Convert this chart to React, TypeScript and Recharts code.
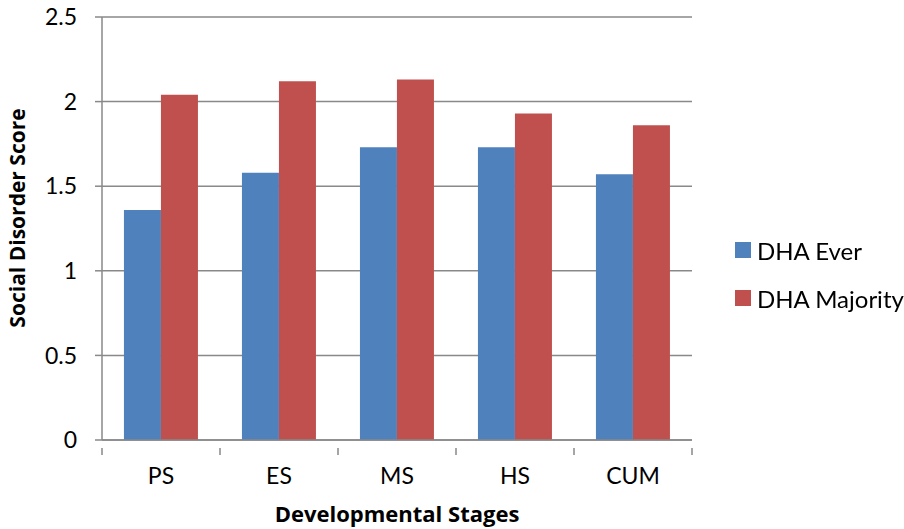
import React from 'react';
import { BarChart, Bar, XAxis, YAxis, CartesianGrid, Legend, Label } from 'recharts';

const stages = ['PS', 'ES', 'MS', 'HS', 'CUM'];
const dhaEver = [1.36, 1.58, 1.73, 1.73, 1.57];
const dhaMajority = [2.04, 2.12, 2.13, 1.93, 1.86];
const yTicks = [0, 0.5, 1, 1.5, 2, 2.5];

const seriesInfo = [
  { key: 'ever', name: 'DHA Ever', color: '#4F81BD' },
  { key: 'majority', name: 'DHA Majority', color: '#C0504D' },
];

const data = stages.map((stage, i) => ({
  stage,
  ever: dhaEver[i],
  majority: dhaMajority[i],
}));

const WIDTH = 904;
const HEIGHT = 529;
const PLOT_LEFT = 102;
const PLOT_RIGHT = 692;
const AXIS_COLOR = '#898989';
const FONT = 'Lato, "Open Sans", sans-serif';
const TITLE_FONT = '"Open Sans", Lato, sans-serif';

const halfBand = (PLOT_RIGHT - PLOT_LEFT) / stages.length / 2;

// Category label centred in its band, with tick marks on the band edges
const StageTick = (props: any) => {
  const { x, y, payload, index } = props;
  const isLast = index === stages.length - 1;
  return (
    <g>
      <line x1={x - halfBand} x2={x - halfBand} y1={y} y2={y + 7} stroke={AXIS_COLOR} strokeWidth={1.5} />
      {isLast && (
        <line x1={x + halfBand} x2={x + halfBand} y1={y} y2={y + 7} stroke={AXIS_COLOR} strokeWidth={1.5} />
      )}
      <text x={x} y={y + 36} textAnchor="middle" fontSize={23} fill="#000" fontFamily={FONT}>
        {payload.value}
      </text>
    </g>
  );
};

const LegendBox = () => (
  <div style={{ fontFamily: FONT, fontSize: 24, color: '#000' }}>
    {seriesInfo.map((s) => (
      <div key={s.key} style={{ display: 'flex', alignItems: 'center', height: 48 }}>
        <span style={{ width: 16, height: 16, background: s.color, display: 'inline-block', marginRight: 6 }} />
        <span>{s.name}</span>
      </div>
    ))}
  </div>
);

export default function App() {
  return (
    <div style={{ position: 'fixed', left: 0, top: 0, background: '#fff' }}>
      <BarChart
        width={WIDTH}
        height={HEIGHT}
        data={data}
        margin={{ top: 17, right: WIDTH - PLOT_RIGHT, left: 0, bottom: 0 }}
        barCategoryGap="18.6%"
        barGap={0}
      >
        <CartesianGrid vertical={false} stroke={AXIS_COLOR} strokeWidth={1.5} />
        <XAxis
          dataKey="stage"
          height={89}
          axisLine={{ stroke: AXIS_COLOR, strokeWidth: 1.5 }}
          tickLine={false}
          tick={<StageTick />}
          interval={0}
        >
          <Label
            content={(p: any) => {
              const vb = p.viewBox;
              return (
                <text
                  x={vb.x + vb.width / 2}
                  y={522}
                  textAnchor="middle"
                  fontSize={22}
                  fontWeight="bold"
                  fontFamily={TITLE_FONT}
                  fill="#000"
                >
                  Developmental Stages
                </text>
              );
            }}
          />
        </XAxis>
        <YAxis
          width={PLOT_LEFT}
          domain={[0, 2.5]}
          ticks={yTicks}
          interval={0}
          axisLine={{ stroke: AXIS_COLOR, strokeWidth: 1.5 }}
          tickLine={{ stroke: AXIS_COLOR, strokeWidth: 1.5 }}
          tickSize={7}
          tickMargin={18}
          tick={{ fontSize: 23, fill: '#000', fontFamily: FONT }}
        >
          <Label
            content={() => {
              const cx = 25;
              const cy = 218;
              return (
                <text
                  x={cx}
                  y={cy}
                  textAnchor="middle"
                  transform={`rotate(-90 ${cx} ${cy})`}
                  fontSize={21}
                  fontWeight="bold"
                  fontFamily={TITLE_FONT}
                  fill="#000"
                >
                  Social Disorder Score
                </text>
              );
            }}
          />
        </YAxis>
        <Legend
          layout="horizontal"
          verticalAlign="middle"
          align="center"
          content={<LegendBox />}
          wrapperStyle={{ position: 'absolute', left: 735, top: 226, width: 169 }}
        />
        {seriesInfo.map((s) => (
          <Bar key={s.key} dataKey={s.key} name={s.name} fill={s.color} isAnimationActive={false} />
        ))}
      </BarChart>
    </div>
  );
}
